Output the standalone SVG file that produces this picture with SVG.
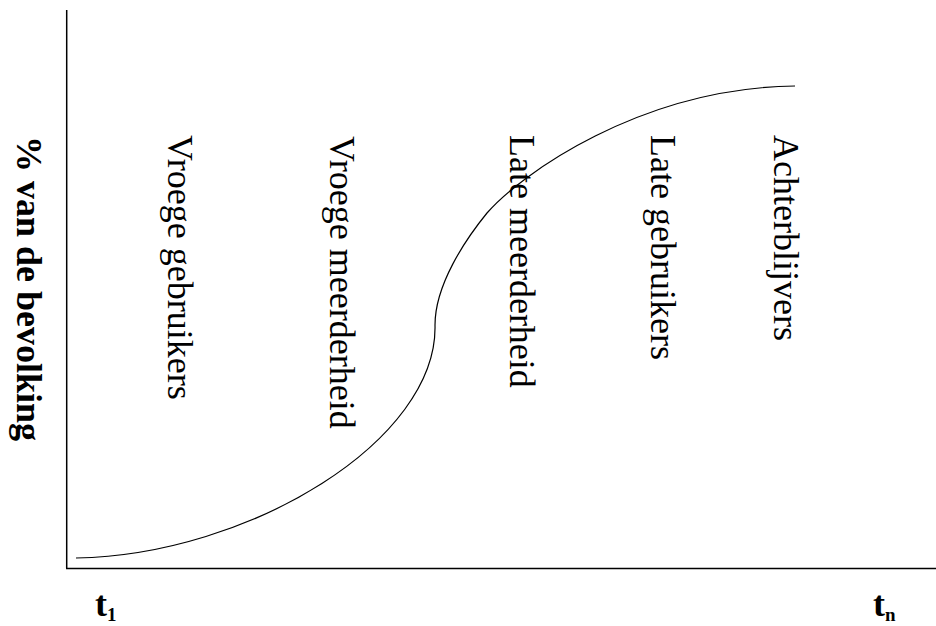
<svg xmlns="http://www.w3.org/2000/svg" width="936" height="626" viewBox="0 0 936 626">
<style>
.lbl{font-family:"Liberation Serif","Times New Roman",serif;font-size:36px;fill:#000}
.bold{font-weight:bold}
.sub{font-size:19px}
.ax{stroke:#000;stroke-width:1.5;fill:none}
.crv{stroke:#000;stroke-width:1.2;fill:none}
</style>
<rect width="936" height="626" fill="#fff"/>
<g id="axes">
<line class="ax" x1="66.7" y1="10" x2="66.7" y2="568.5"/>
<line class="ax" x1="66" y1="568.5" x2="936" y2="568.5"/>
</g>
<g id="connectors">
<path class="crv" d="M76,558 C250,555 438,440 435,325 C435,285 465,240 487,213 C520,175 640,88 795,86"/>
</g>
<g id="ylabel"><text class="lbl bold" transform="translate(17,136) rotate(90)">% van de bevolking</text></g>
<g id="vroege-gebruikers"><text class="lbl" transform="translate(168,135) rotate(90)">Vroege gebruikers</text></g>
<g id="vroege-meerderheid"><text class="lbl" transform="translate(330,136) rotate(90)">Vroege meerderheid</text></g>
<g id="late-meerderheid"><text class="lbl" transform="translate(510,135) rotate(90)">Late meerderheid</text></g>
<g id="late-gebruikers"><text class="lbl" transform="translate(651,135) rotate(90)">Late gebruikers</text></g>
<g id="achterblijvers"><text class="lbl" transform="translate(774,135) rotate(90)">Achterblijvers</text></g>
<g id="t1"><text class="lbl bold" x="95" y="616">t<tspan class="sub" dy="5">1</tspan></text></g>
<g id="tn"><text class="lbl bold" x="873" y="616">t<tspan class="sub" dy="5">n</tspan></text></g>
</svg>
